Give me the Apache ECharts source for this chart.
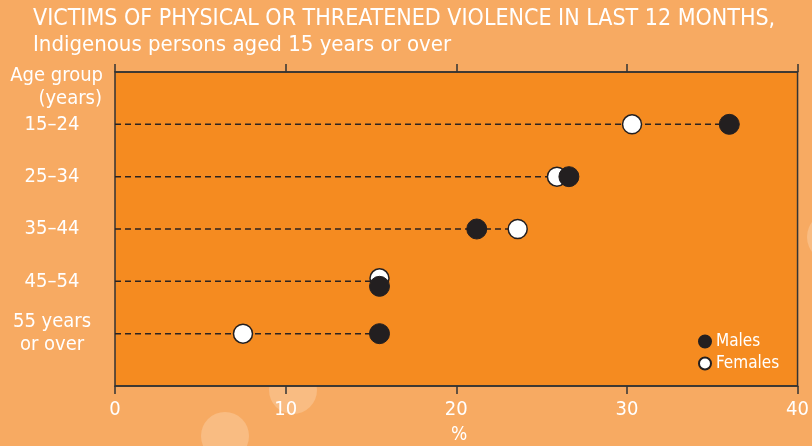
<!DOCTYPE html>
<html>
<head>
<meta charset="utf-8">
<script src="https://cdn.jsdelivr.net/npm/echarts@6/dist/echarts.min.js"></script>
<style>
html,body{margin:0;padding:0;background:#F7AA62;}
#chart{width:812px;height:446px;}
</style>
</head>
<body>
<div id="chart"></div>
<script>
// Data
var categories = ['', '15–24', '25–34', '35–44', '45–54', '55 years\nor over', ''];
var ageGroups = ['15–24', '25–34', '35–44', '45–54', '55 years\nor over'];
var males = [36.0, 26.6, 21.2, 15.5, 15.5];
var females = [30.3, 25.9, 23.6, 15.5, 7.5];
var xTicks = [0, 10, 20, 30, 40];

var chart = echarts.init(document.getElementById('chart'));
var font = "'Liberation Sans Narrow', 'DejaVu Sans Condensed', sans-serif";

var lineData = ageGroups.map(function (g, i) { return [Math.max(males[i], females[i]), g]; });
var maleData = ageGroups.map(function (g, i) {
  var d = { value: [males[i], g] };
  if (g === '45–54') d.symbolOffset = [0, 5];
  return d;
});
var femaleData = ageGroups.map(function (g, i) {
  var d = { value: [females[i], g] };
  if (g === '45–54') d.symbolOffset = [0, -3];
  return d;
});

chart.setOption({
  backgroundColor: '#F7AA62',
  animation: false,
  textStyle: { fontFamily: font },
  title: {
    text: 'VICTIMS OF PHYSICAL OR THREATENED VIOLENCE IN LAST 12 MONTHS,',
    subtext: 'Indigenous persons aged 15 years or over',
    left: 28, top: 3, itemGap: 3,
    textStyle: { color: '#fff', fontSize: 23, fontWeight: 'normal', fontFamily: font },
    subtextStyle: { color: '#fff', fontSize: 22, fontFamily: font }
  },
  graphic: [
    { type: 'circle', z: -1, shape: { cx: 293, cy: 390, r: 24 }, style: { fill: '#F9BC82' } },
    { type: 'circle', z: -1, shape: { cx: 225, cy: 436, r: 24 }, style: { fill: '#F9BC82' } },
    { type: 'circle', z: -1, shape: { cx: 832, cy: 237, r: 25 }, style: { fill: '#F9BC82' } },
    { type: 'text', right: 709, top: 66, z: 10,
      style: { text: 'Age group', fill: '#fff', font: '20px ' + font } },
    { type: 'text', right: 710, top: 89, z: 10,
      style: { text: '(years)', fill: '#fff', font: '20px ' + font } },
    { type: 'text', left: 451, top: 426, z: 10,
      style: { text: '%', fill: '#fff', font: '19px ' + font } }
  ],
  grid: {
    left: 115, right: 13, top: 72, bottom: 60,
    show: true, backgroundColor: '#F58B20', borderColor: '#333', borderWidth: 1.5,
    containLabel: false
  },
  legend: {
    orient: 'vertical', left: 693, top: 328, itemWidth: 12, itemHeight: 12, itemGap: 5,
    data: [
      { name: 'Males', icon: 'circle' },
      { name: 'Females', icon: 'circle' }
    ],
    textStyle: { color: '#fff', fontSize: 17, fontFamily: font }
  },
  xAxis: [
    {
      type: 'value', position: 'bottom', min: 0, max: 40, interval: 10,
      axisLine: { show: true, lineStyle: { color: '#333', width: 1.5 } },
      axisTick: { show: true, length: 8, lineStyle: { color: '#333', width: 1.5 } },
      axisLabel: { color: '#fff', fontSize: 20, margin: 14, fontFamily: font,
        formatter: function (v) { return xTicks.indexOf(v) >= 0 ? String(v) : ''; } },
      splitLine: { show: false }
    },
    {
      type: 'value', position: 'top', min: 0, max: 40, interval: 10,
      axisLine: { show: true, lineStyle: { color: '#333', width: 1.5 } },
      axisTick: { show: true, length: 8, lineStyle: { color: '#333', width: 1.5 } },
      axisLabel: { show: false },
      splitLine: { show: false }
    }
  ],
  yAxis: {
    type: 'category', data: categories, inverse: true, boundaryGap: false,
    axisLine: { show: false }, axisTick: { show: false }, splitLine: { show: false },
    axisLabel: { color: '#fff', fontSize: 20, align: 'center', margin: 63, lineHeight: 23, fontFamily: font,
      interval: 0, padding: [4, 0, 0, 0] }
  },
  series: [
    {
      type: 'custom', name: 'lines', silent: true,
      data: lineData,
      encode: { x: 0, y: 1 },
      renderItem: function (params, api) {
        var end = api.coord([api.value(0), api.value(1)]);
        var start = api.coord([0, api.value(1)]);
        return {
          type: 'line',
          shape: { x1: start[0], y1: start[1], x2: end[0], y2: end[1] },
          style: { stroke: '#2a2220', lineWidth: 1.5, lineDash: [6, 4] }
        };
      },
      z: 1
    },
    {
      type: 'scatter', name: 'Females', data: femaleData, symbolSize: 19, z: 2,
      itemStyle: { color: '#ffffff', borderColor: '#231F20', borderWidth: 1.5, opacity: 1 }
    },
    {
      type: 'scatter', name: 'Males', data: maleData, symbolSize: 20, z: 3,
      itemStyle: { color: '#231F20', borderColor: '#231F20', borderWidth: 1, opacity: 1 }
    }
  ]
});
</script>
</body>
</html>
